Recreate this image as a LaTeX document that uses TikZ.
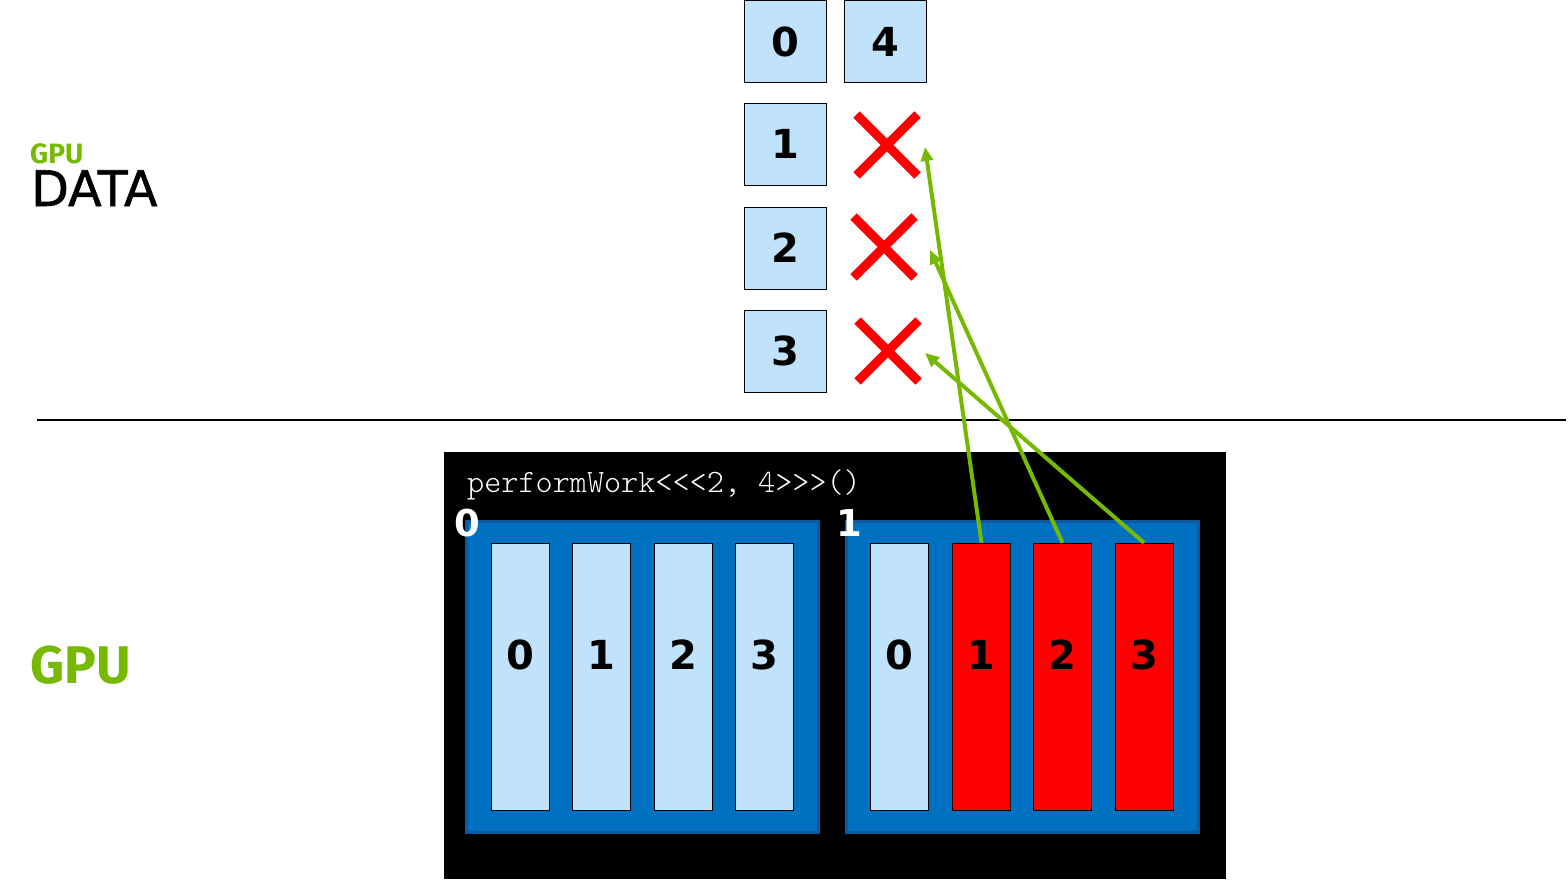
\documentclass[tikz,border=0pt]{standalone}
\usepackage{fontspec}
\setmainfont{DejaVu Sans}
\newfontfamily\labelfont{Fira Sans}
\newfontfamily\datafont{DejaVu Sans}[FakeBold=1.2]
\newfontfamily\codefont{lmmonolt10-regular.otf}
\usetikzlibrary{arrows.meta,shapes.misc}

\definecolor{cellblue}{RGB}{192,226,250}
\definecolor{blockblue}{RGB}{0,112,192}
\definecolor{blockedge}{RGB}{16,88,156}
\definecolor{nvgreen}{RGB}{118,185,0}

\tikzset{
  digits/.style={font=\bfseries\fontsize{40}{40}\selectfont},
  cell/.style={draw=black, fill=cellblue, minimum size=82pt, inner sep=0pt, digits},
  thread/.style={draw=black, fill=cellblue, minimum width=58pt, minimum height=267pt,
    inner sep=0pt},
  busy/.style={thread, fill=red},
  num/.style={inner sep=0pt, digits},
  block/.style={draw=blockedge, fill=blockblue, line width=3pt, inner sep=0pt,
    minimum width=352pt, minimum height=311pt},
  nope/.style={cross out, draw=red, line width=9pt, minimum size=52pt, inner sep=0pt},
  hit/.style={draw=nvgreen, line width=4pt, -{Triangle[length=14pt,width=12pt]}},
  tag/.style={text=white, inner sep=0pt, font=\bfseries\fontsize{37}{37}\selectfont}
}

\begin{document}
\begin{tikzpicture}[x=1pt,y=-1pt]
  \useasboundingbox (0,0) rectangle (1568,879);

  % labels on the left
  \node[anchor=base west, inner sep=0pt, text=nvgreen, font=\labelfont\bfseries\fontsize{28}{28}\selectfont] (gpusmall) at (30,163) {GPU};
  \node[anchor=base west, inner sep=0pt, font=\datafont\fontsize{49}{49}\selectfont] (data) at (31,206) {DATA};
  \node[anchor=base west, inner sep=0pt, text=nvgreen, font=\labelfont\bfseries\fontsize{53}{53}\selectfont] (gpubig) at (30,683) {GPU};

  % memory cells
  \node[cell] (c0) at (785,41.5) {0};
  \node[cell] (c4) at (885,41.5) {4};
  \node[cell] (c1) at (785,144) {1};
  \node[cell] (c2) at (785,248) {2};
  \node[cell] (c3) at (785,351) {3};

  \node[nope] (x1) at (887,145) {};
  \node[nope] (x2) at (884,247) {};
  \node[nope] (x3) at (888,351) {};

  \draw[line width=2.2pt] (37,420) -- (1566,420);

  % the device
  \fill[black] (444,452) rectangle (1226,879);
  \node[anchor=base west, inner sep=0pt, text=white, font=\codefont\fontsize{32.6}{32.6}\selectfont] (call) at (467,492) {performWork<<<2, 4>>>()};

  \node[block] (b0) at (642,676.5) {};
  \node[block] (b1) at (1022,676.5) {};
  \node[tag] (l0) at (467,523) {0};
  \node[tag] (l1) at (849,523) {1};

  \node[thread] (t00) at (520,676.5) {};
  \node[thread] (t01) at (601.5,676.5) {};
  \node[thread] (t02) at (683,676.5) {};
  \node[thread] (t03) at (764.5,676.5) {};
  \node[thread] (t10) at (899.5,676.5) {};
  \node[busy] (t11) at (981.5,676.5) {};
  \node[busy] (t12) at (1062.5,676.5) {};
  \node[busy] (t13) at (1144,676.5) {};

  \node[num] (n00) at (520,655) {0};
  \node[num] (n01) at (601.5,655) {1};
  \node[num] (n02) at (683,655) {2};
  \node[num] (n03) at (764.5,655) {3};
  \node[num] (n10) at (899.5,655) {0};
  \node[num] (n11) at (981.5,655) {1};
  \node[num] (n12) at (1062.5,655) {2};
  \node[num] (n13) at (1144,655) {3};

  % writes out of bounds
  \coordinate (w1) at (925,147);
  \coordinate (w2) at (930,250);
  \coordinate (w3) at (925,353);
  \draw[hit] (t11.north) -- (w1);
  \draw[hit] (t12.north) -- (w2);
  \draw[hit] (t13.north) -- (w3);

\end{tikzpicture}
\end{document}
